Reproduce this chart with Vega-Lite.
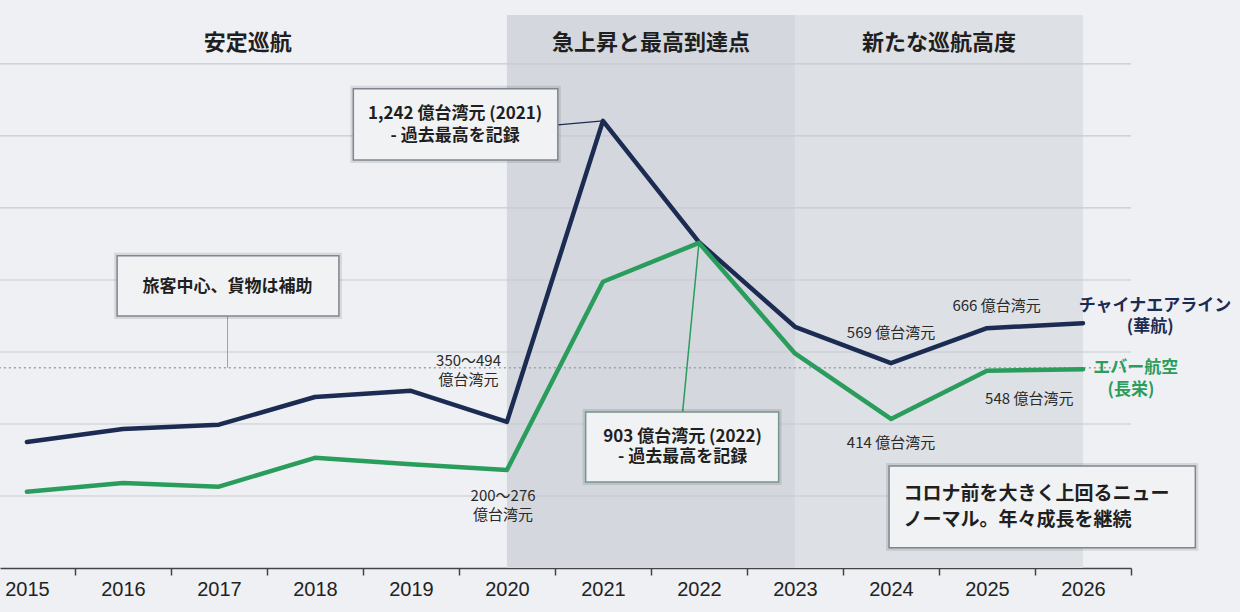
{
  "$schema": "https://vega.github.io/schema/vega-lite/v6.json",
  "width": 1131,
  "height": 553,
  "autosize": {"type": "none"},
  "padding": {"left": 0, "top": 15, "right": 109, "bottom": 44},
  "background": "#eef0f3",
  "config": {
    "view": {"stroke": null},
    "font": "Noto Sans CJK JP",
    "text": {"font": "Noto Sans CJK JP", "baseline": "middle"}
  },
  "datasets": {
    "bands": [
      {"period": "急上昇と最高到達点", "year": 2020, "year_end": 2023, "amount": 0, "amount_end": 1536},
      {"period": "新たな巡航高度", "year": 2023, "year_end": 2026, "amount": 0, "amount_end": 1536}
    ],
    "grid": [
      {"year": 2014.5, "year_end": 2026.5, "amount": 200},
      {"year": 2014.5, "year_end": 2026.5, "amount": 400},
      {"year": 2014.5, "year_end": 2026.5, "amount": 600},
      {"year": 2014.5, "year_end": 2026.5, "amount": 800},
      {"year": 2014.5, "year_end": 2026.5, "amount": 1000},
      {"year": 2014.5, "year_end": 2026.5, "amount": 1200},
      {"year": 2014.5, "year_end": 2026.5, "amount": 1400}
    ],
    "revenue": [
      {"airline": "チャイナエアライン", "year": 2015, "amount": 350},
      {"airline": "チャイナエアライン", "year": 2016, "amount": 386},
      {"airline": "チャイナエアライン", "year": 2017, "amount": 398},
      {"airline": "チャイナエアライン", "year": 2018, "amount": 475},
      {"airline": "チャイナエアライン", "year": 2019, "amount": 492},
      {"airline": "チャイナエアライン", "year": 2020, "amount": 406},
      {"airline": "チャイナエアライン", "year": 2021, "amount": 1242},
      {"airline": "チャイナエアライン", "year": 2022, "amount": 905},
      {"airline": "チャイナエアライン", "year": 2023, "amount": 670},
      {"airline": "チャイナエアライン", "year": 2024, "amount": 569},
      {"airline": "チャイナエアライン", "year": 2025, "amount": 666},
      {"airline": "チャイナエアライン", "year": 2026, "amount": 680},
      {"airline": "エバー航空", "year": 2015, "amount": 212},
      {"airline": "エバー航空", "year": 2016, "amount": 236},
      {"airline": "エバー航空", "year": 2017, "amount": 226},
      {"airline": "エバー航空", "year": 2018, "amount": 306},
      {"airline": "エバー航空", "year": 2019, "amount": 288},
      {"airline": "エバー航空", "year": 2020, "amount": 272},
      {"airline": "エバー航空", "year": 2021, "amount": 795},
      {"airline": "エバー航空", "year": 2022, "amount": 903},
      {"airline": "エバー航空", "year": 2023, "amount": 596},
      {"airline": "エバー航空", "year": 2024, "amount": 414},
      {"airline": "エバー航空", "year": 2025, "amount": 548},
      {"airline": "エバー航空", "year": 2026, "amount": 552}
    ],
    "boxes": [
      {"box": "cal_peak", "year": 2018.4, "year_end": 2020.53, "amount": 1331, "amount_end": 1133},
      {"box": "passenger", "year": 2015.94, "year_end": 2018.25, "amount": 867, "amount_end": 700},
      {"box": "eva_peak", "year": 2020.82, "year_end": 2022.83, "amount": 433, "amount_end": 239},
      {"box": "new_normal", "year": 2023.98, "year_end": 2027.17, "amount": 283, "amount_end": 56}
    ],
    "periods": [
      {"label": "安定巡航", "year": 2017.3, "amount": 1458},
      {"label": "急上昇と最高到達点", "year": 2021.5, "amount": 1458},
      {"label": "新たな巡航高度", "year": 2024.5, "amount": 1458}
    ],
    "boxtext": [
      {"label": "1,242 億台湾元 (2021)", "year": 2019.46, "amount": 1261},
      {"label": "- 過去最高を記録", "year": 2019.46, "amount": 1200},
      {"label": "旅客中心、貨物は補助", "year": 2017.09, "amount": 781},
      {"label": "903 億台湾元 (2022)", "year": 2021.83, "amount": 364},
      {"label": "- 過去最高を記録", "year": 2021.83, "amount": 308}
    ],
    "notes": [
      {"label": "350〜494", "year": 2019.6, "amount": 575},
      {"label": "億台湾元", "year": 2019.6, "amount": 522},
      {"label": "200〜276", "year": 2019.96, "amount": 200},
      {"label": "億台湾元", "year": 2019.96, "amount": 147},
      {"label": "569 億台湾元", "year": 2024.0, "amount": 653},
      {"label": "414 億台湾元", "year": 2024.0, "amount": 347},
      {"label": "666 億台湾元", "year": 2025.1, "amount": 728},
      {"label": "548 億台湾元", "year": 2025.44, "amount": 469}
    ],
    "serieslabels": [
      {"airline": "チャイナエアライン", "label": "チャイナエアライン", "year": 2026.75, "amount": 728},
      {"airline": "チャイナエアライン", "label": "(華航)", "year": 2026.7, "amount": 669},
      {"airline": "エバー航空", "label": "エバー航空", "year": 2026.55, "amount": 556},
      {"airline": "エバー航空", "label": "(長栄)", "year": 2026.5, "amount": 494}
    ],
    "summary": [
      {"label": "コロナ前を大きく上回るニュー", "year": 2024.13, "amount": 206},
      {"label": "ノーマル。年々成長を継続", "year": 2024.13, "amount": 133}
    ]
  },
  "encoding": {
    "x": {
      "field": "year",
      "type": "quantitative",
      "title": null,
      "scale": {"domain": [2014.72, 2026.5], "nice": false, "zero": false},
      "axis": {
        "values": [2015, 2016, 2017, 2018, 2019, 2020, 2021, 2022, 2023, 2024, 2025, 2026],
        "format": "d",
        "grid": false,
        "tickOffset": 48,
        "labelOffset": -48,
        "tickSize": 7,
        "tickColor": "#444",
        "tickWidth": 1.5,
        "domainColor": "#444",
        "domainWidth": 1.5,
        "labelFont": "Liberation Sans",
        "labelFontSize": 20,
        "labelColor": "#222",
        "labelPadding": 4,
        "labelFlush": false
      }
    },
    "y": {
      "field": "amount",
      "type": "quantitative",
      "title": null,
      "scale": {"domain": [0, 1536], "nice": false},
      "axis": null
    }
  },
  "layer": [
    {
      "data": {"name": "bands"},
      "transform": [{"filter": "datum.period === '急上昇と最高到達点'"}],
      "mark": {"type": "rect", "color": "#d4d8de"},
      "encoding": {"x2": {"field": "year_end"}, "y2": {"field": "amount_end"}}
    },
    {
      "data": {"name": "bands"},
      "transform": [{"filter": "datum.period === '新たな巡航高度'"}],
      "mark": {"type": "rect", "color": "#dde0e5"},
      "encoding": {"x2": {"field": "year_end"}, "y2": {"field": "amount_end"}}
    },
    {
      "data": {"name": "grid"},
      "mark": {"type": "rule", "color": "#c6cad0", "strokeWidth": 1.2},
      "encoding": {"x2": {"field": "year_end"}}
    },
    {
      "data": {"values": [{"year": 2014.5, "year_end": 2026.5, "amount": 556}]},
      "mark": {"type": "rule", "color": "#9ca2aa", "strokeWidth": 1.5, "strokeDash": [2, 3]},
      "encoding": {"x2": {"field": "year_end"}}
    },
    {
      "data": {"values": [{"year": 2017.09, "amount": 556, "amount_end": 700}]},
      "mark": {"type": "rule", "color": "#9ca2aa", "strokeWidth": 1},
      "encoding": {"y2": {"field": "amount_end"}}
    },
    {
      "data": {"values": [{"year": 2020.53, "amount": 1231, "year_end": 2021, "amount_end": 1242}]},
      "mark": {"type": "rule", "color": "#1c2b52", "strokeWidth": 1.2},
      "encoding": {"x2": {"field": "year_end"}, "y2": {"field": "amount_end"}}
    },
    {
      "data": {"values": [{"year": 2021.83, "amount": 433, "year_end": 2022, "amount_end": 903}]},
      "mark": {"type": "rule", "color": "#2a9d5c", "strokeWidth": 1.5},
      "encoding": {"x2": {"field": "year_end"}, "y2": {"field": "amount_end"}}
    },
    {
      "data": {"name": "revenue"},
      "mark": {"type": "line", "strokeWidth": 4.5, "strokeJoin": "round", "strokeCap": "round"},
      "encoding": {
        "color": {
          "field": "airline",
          "type": "nominal",
          "scale": {"domain": ["チャイナエアライン", "エバー航空"], "range": ["#1c2b52", "#2a9d5c"]},
          "legend": null
        }
      }
    },
    {
      "data": {"name": "boxes"},
      "mark": {"type": "rect", "fill": null, "stroke": "#000000", "strokeOpacity": 0.1, "strokeWidth": 6},
      "encoding": {"x2": {"field": "year_end"}, "y2": {"field": "amount_end"}}
    },
    {
      "data": {"name": "boxes"},
      "mark": {"type": "rect", "fill": "#f1f2f4", "strokeWidth": 1.5},
      "encoding": {
        "x2": {"field": "year_end"},
        "y2": {"field": "amount_end"},
        "stroke": {"condition": {"test": "datum.box === 'eva_peak'", "value": "#74978b"}, "value": "#7f868f"}
      }
    },
    {
      "data": {"name": "periods"},
      "mark": {"type": "text", "fontSize": 22, "fontWeight": "bold", "color": "#1f1f1f"},
      "encoding": {"text": {"field": "label"}}
    },
    {
      "data": {"name": "boxtext"},
      "mark": {"type": "text", "fontSize": 17, "fontWeight": "bold", "color": "#1f1f1f"},
      "encoding": {"text": {"field": "label"}}
    },
    {
      "data": {"name": "notes"},
      "mark": {"type": "text", "fontSize": 15, "color": "#2a2a2a"},
      "encoding": {"text": {"field": "label"}}
    },
    {
      "data": {"name": "serieslabels"},
      "mark": {"type": "text", "fontSize": 17, "fontWeight": "bold"},
      "encoding": {
        "text": {"field": "label"},
        "color": {"field": "airline", "type": "nominal", "legend": null}
      }
    },
    {
      "data": {"name": "summary"},
      "mark": {"type": "text", "fontSize": 19, "fontWeight": "bold", "align": "left", "color": "#1f1f1f"},
      "encoding": {"text": {"field": "label"}}
    }
  ]
}
